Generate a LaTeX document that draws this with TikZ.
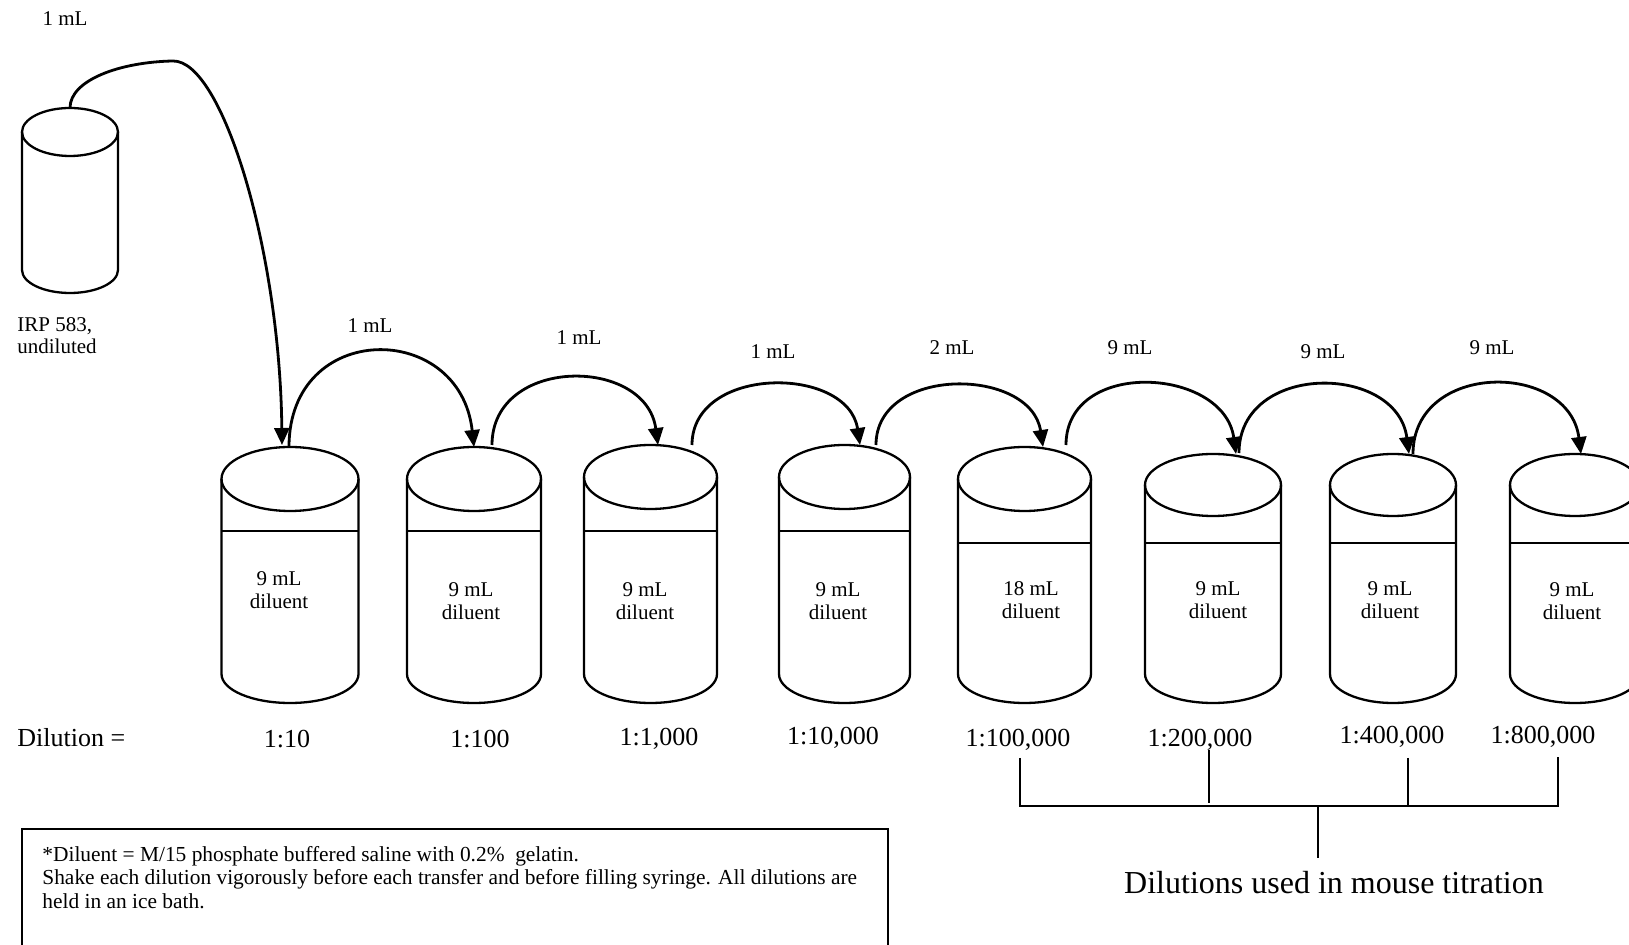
\documentclass[tikz,border=0pt]{standalone}
\usepackage{fontspec}
\setmainfont{Liberation Serif}
\usetikzlibrary{arrows.meta,calc}
\newcommand{\cylinder}[6]{% cx, top cy, rx, top ry, bottom cy, bottom ry
  \draw[beak] (#1,#2) ellipse [x radius=#3, y radius=#4];
  \draw[beak] (#1-#3,#2) -- (#1-#3,#5) arc[start angle=180,end angle=0,x radius=#3,y radius=#6] -- (#1+#3,#2);
}
\begin{document}
\begin{tikzpicture}[x=0.5pt,y=-0.5pt,
  beak/.style={line width=1.15pt},
  liq/.style={line width=0.9pt},
  arc/.style={line width=1.4pt,-{Triangle[length=8.5pt,width=7.5pt]}},
  vol/.style={font=\fontsize{10.5}{11}\selectfont, inner sep=0pt},
  cont/.style={font=\fontsize{10.5}{11.5}\selectfont, align=center, inner sep=0pt},
  dil/.style={font=\fontsize{13}{15}\selectfont, inner sep=0pt},
  brk/.style={line width=1pt},
  note/.style={font=\fontsize{10.7}{11.7}\selectfont, align=left, inner sep=0pt, anchor=north west}]
\useasboundingbox (0,0) rectangle (1629,945);
\fill[white] (0,0) rectangle (1629,945);

% source beaker
\cylinder{70}{132}{48}{24}{270}{23}
\coordinate (src) at (70,108);
\node[vol] (v0) at (65,19) {1 mL};
\node[vol, align=left, anchor=west] (irp) at (17,336) {IRP 583,\\undiluted};

% dilution beakers
\cylinder{290}{479}{68.5}{32}{674}{29}
\cylinder{474}{479}{67}{32}{674}{29}
\cylinder{650.5}{477}{66.5}{32}{674}{29}
\cylinder{844.5}{477}{65.5}{32}{674}{29}
\cylinder{1024.5}{479}{66.5}{32}{674}{29}
\cylinder{1213}{485}{68}{31}{674}{29}
\cylinder{1393}{485}{63}{31}{674}{29}
\cylinder{1575}{485}{65}{31}{674}{29}

% liquid levels
\draw[liq] (221.5,531) -- (358.5,531);
\draw[liq] (407,531) -- (541,531);
\draw[liq] (584,531) -- (717,531);
\draw[liq] (779,531) -- (910,531);
\draw[liq] (958,543) -- (1091,543);
\draw[liq] (1145,543) -- (1281,543);
\draw[liq] (1330,543) -- (1456,543);
\draw[liq] (1510,543) -- (1640,543);

% contents
\node[cont] (c1) at (279,590) {9 mL\\diluent};
\node[cont] (c2) at (471,601) {9 mL\\diluent};
\node[cont] (c3) at (645,601) {9 mL\\diluent};
\node[cont] (c4) at (838,601) {9 mL\\diluent};
\node[cont] (c5) at (1031,600) {18 mL\\diluent};
\node[cont] (c6) at (1218,600) {9 mL\\diluent};
\node[cont] (c7) at (1390,600) {9 mL\\diluent};
\node[cont] (c8) at (1572,601) {9 mL\\diluent};

% transfer points
\coordinate (b1in) at (282,445);
\coordinate (b1out) at (289,447);
\coordinate (b2top) at (474,447);
\coordinate (b3top) at (658,445);
\coordinate (b4top) at (860,445);
\coordinate (b5top) at (1043,447);
\coordinate (b6top) at (1236,454);
\coordinate (b7top) at (1409,454);
\coordinate (b8top) at (1581,454);
\coordinate (b2out) at (492,445);
\coordinate (b3out) at (692,445);
\coordinate (b4out) at (876,445);
\coordinate (b5out) at (1066,445);
\coordinate (b6out) at (1239,453);
\coordinate (b7out) at (1413,454);

% transfers
\draw[arc] (src) .. controls (70,80) and (120,62) .. (173,61) .. controls (222,60) and (280,250) .. (b1in);
\draw[arc] (b1out) .. controls ($(b1out)+(0,-127)$) and ($(b2top)+(-14,-127)$) .. (b2top);
\draw[arc] (b2out) .. controls ($(b2out)+(0,-89)$) and ($(b3top)+(-12,-89)$) .. (b3top);
\draw[arc] (b3out) .. controls ($(b3out)+(0,-80)$) and ($(b4top)+(-12,-80)$) .. (b4top);
\draw[arc] (b4out) .. controls ($(b4out)+(0,-80)$) and ($(b5top)+(-12,-80)$) .. (b5top);
\draw[arc] (b5out) .. controls ($(b5out)+(0,-87)$) and ($(b6top)+(-12,-87)$) .. (b6top);
\draw[arc] (b6out) .. controls ($(b6out)+(0,-91)$) and ($(b7top)+(-12,-91)$) .. (b7top);
\draw[arc] (b7out) .. controls ($(b7out)+(0,-93)$) and ($(b8top)+(-12,-93)$) .. (b8top);

% transfer volumes
\node[vol] (v1) at (370,326) {1 mL};
\node[vol] (v2) at (579,338) {1 mL};
\node[vol] (v3) at (773,352) {1 mL};
\node[vol] (v4) at (952,348) {2 mL};
\node[vol] (v5) at (1130,348) {9 mL};
\node[vol] (v6) at (1323,352) {9 mL};
\node[vol] (v7) at (1492,348) {9 mL};

% dilutions
\node[dil, anchor=west] (dl) at (17,738) {Dilution =};
\node[dil] (d1) at (287,739) {1:10};
\node[dil] (d2) at (480,739) {1:100};
\node[dil] (d3) at (659,739) {1:1,000};
\node[dil] (d4) at (833,738) {1:10,000};
\node[dil] (d5) at (1018,740) {1:100,000};
\node[dil] (d6) at (1200,740) {1:200,000};
\node[dil] (d7) at (1392,737) {1:400,000};
\node[dil] (d8) at (1543,737) {1:800,000};

% bracket
\coordinate (k5) at (1020,758);
\coordinate (k6) at (1209,750);
\coordinate (k7) at (1408,758);
\coordinate (k8) at (1558,757);
\coordinate (h5) at (1020,806);
\coordinate (h6) at (1209,803);
\coordinate (h7) at (1408,806);
\coordinate (h8) at (1558,806);
\coordinate (hm) at (1318,806);
\coordinate (hs) at (1318,858);
\draw[brk] (k5) -- (h5) -- (h8) -- (k8);
\draw[brk] (k6) -- (h6);
\draw[brk] (k7) -- (h7);
\draw[brk] (hm) -- (hs);
\node[font=\fontsize{16}{19}\selectfont, inner sep=0pt] (mt) at (1334,883) {Dilutions used in mouse titration};

% note box
\draw[line width=1pt] (22,829) rectangle (888,975);
\node[note] (nt) at (42,846) {*Diluent = M/15 phosphate buffered saline with 0.2\% \ gelatin.\\
Shake each dilution vigorously before each transfer and before filling syringe.  All dilutions are\\
held in an ice bath.};
\end{tikzpicture}
\end{document}
